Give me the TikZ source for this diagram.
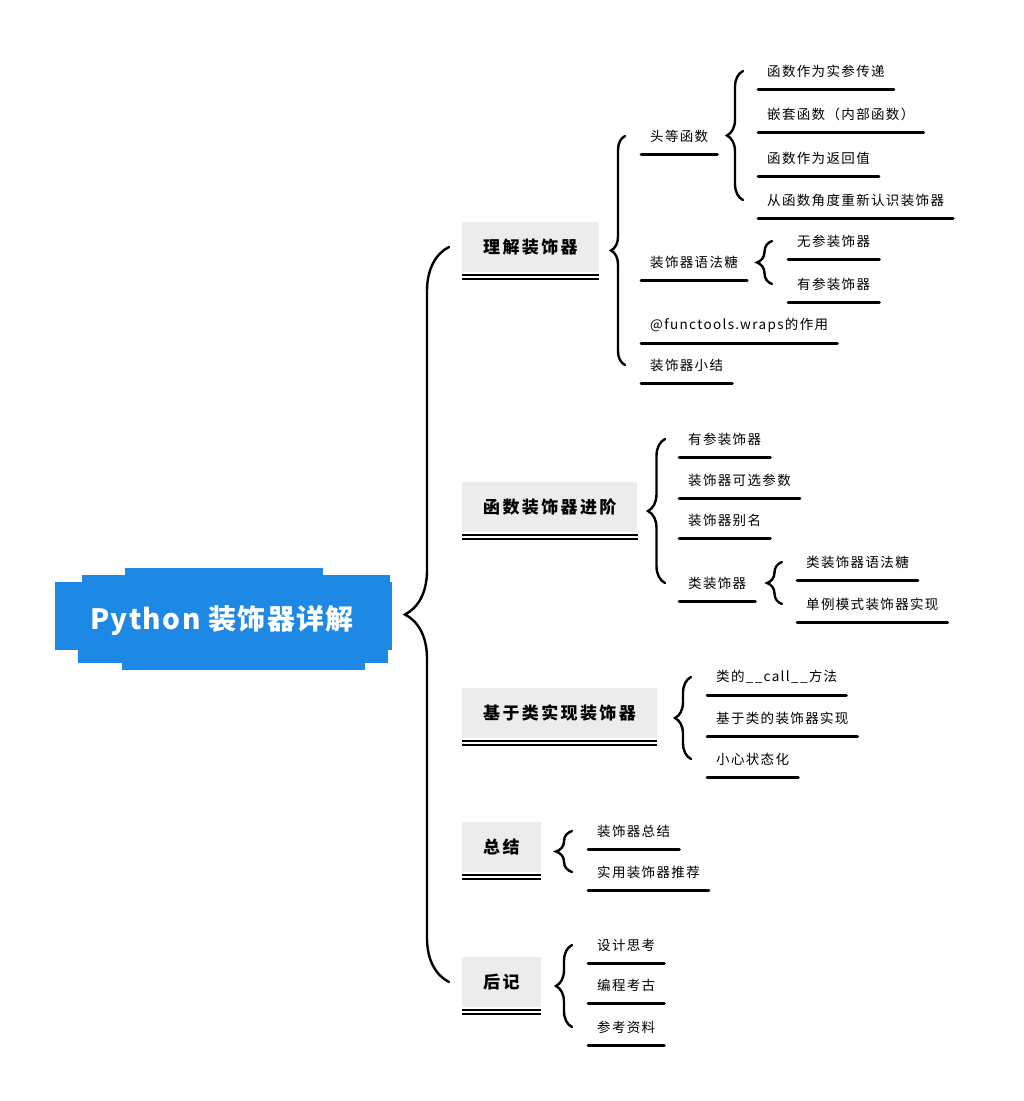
\documentclass[tikz,border=0pt]{standalone}
\usepackage{fontspec}
\setmainfont{Noto Sans CJK SC}[LetterSpace=10]
\usetikzlibrary{decorations.pathreplacing}
\definecolor{mapblue}{RGB}{30,136,229}

\begin{document}
\begin{tikzpicture}[x=1pt,y=-1pt]
   \tikzstyle{topic}=[anchor=west, fill=gray!15, minimum height=50pt, inner xsep=21pt, font=\fontsize{17}{20}\selectfont\bfseries\addfontfeatures{LetterSpace=14}]
   \tikzstyle{leaf}=[anchor=west, minimum height=36pt, inner xsep=9pt, font=\fontsize{13.5}{16}\selectfont]
   \tikzstyle{uline}=[line width=2.9pt, line cap=round]
   \tikzstyle{dline}=[draw=black, double=white, double distance=2pt, line width=2pt]
   \tikzstyle{brc}=[decorate, decoration={brace, amplitude=15pt}, line width=2.4pt, line cap=round]

\useasboundingbox[fill=white] (0,0) rectangle (1024,1101);

% root blob
\fill[mapblue] (55,582) rectangle (392,650);
\fill[mapblue] (82,575) rectangle (390,585);
\fill[mapblue] (125,568) rectangle (323,580);
\fill[mapblue] (78,648) rectangle (388,663);
\fill[mapblue] (122,660) rectangle (365,670);
\node[text=white, font=\fontsize{28}{32}\selectfont\bfseries\addfontfeatures{LetterSpace=5}] (root) at (222,621) {Python 装饰器详解};

% topics
\node[topic] (t1) at (462,247) {理解装饰器};
\node[topic] (t2) at (462,507) {函数装饰器进阶};
\node[topic] (t3) at (462,713) {基于类实现装饰器};
\node[topic] (t4) at (462,847) {总结};
\node[topic] (t5) at (462,982) {后记};

% leaves
\node[leaf] (a1) at (641,136) {头等函数};
\node[leaf] (a2) at (641,262) {装饰器语法糖};
\node[leaf] (a3) at (641,325) {@functools.wraps的作用};
\node[leaf] (a4) at (641,365) {装饰器小结};
\node[leaf] (b1) at (758,71) {函数作为实参传递};
\node[leaf] (b2) at (758,114) {嵌套函数（内部函数）};
\node[leaf] (b3) at (758,158) {函数作为返回值};
\node[leaf] (b4) at (758,200) {从函数角度重新认识装饰器};
\node[leaf] (c1) at (788,241) {无参装饰器};
\node[leaf] (c2) at (788,284) {有参装饰器};
\node[leaf] (d1) at (679,439) {有参装饰器};
\node[leaf] (d2) at (679,480) {装饰器可选参数};
\node[leaf] (d3) at (679,520) {装饰器别名};
\node[leaf] (d4) at (679,583) {类装饰器};
\node[leaf] (e1) at (797,562) {类装饰器语法糖};
\node[leaf] (e2) at (797,604) {单例模式装饰器实现};
\node[leaf] (f1) at (707,677) {类的\_\_call\_\_方法};
\node[leaf] (f2) at (707,718) {基于类的装饰器实现};
\node[leaf] (f3) at (707,759) {小心状态化};
\node[leaf] (g1) at (588,831) {装饰器总结};
\node[leaf] (g2) at (588,872) {实用装饰器推荐};
\node[leaf] (h1) at (588,945) {设计思考};
\node[leaf] (h2) at (588,985) {编程考古};
\node[leaf] (h3) at (588,1027) {参考资料};

% underlines
\foreach \n in {t1,t2,t3,t4,t5}
   \draw[dline] ([yshift=-5pt]\n.south west) -- ([yshift=-5pt]\n.south east);
\foreach \n in {a1,a2,a3,a4,b1,b2,b3,b4,c1,c2,d1,d2,d3,d4,e1,e2,f1,f2,f3,g1,g2,h1,h2,h3}
   \draw[uline] (\n.south west) -- (\n.south east);

% braces
\draw[brc, decoration={amplitude=44pt}] ([xshift=-13pt]t5.west) -- ([xshift=-13pt]t1.west);
\draw[brc, decoration={amplitude=14pt}] ([xshift=-16pt]a4.west) -- ([xshift=-16pt]a1.west);
\draw[brc, decoration={amplitude=16pt}] ([xshift=-15pt]b4.west) -- ([xshift=-15pt]b1.west);
\draw[brc] ([xshift=-16pt]c2.west) -- ([xshift=-16pt]c1.west);
\draw[brc, decoration={amplitude=17pt}] ([xshift=-14pt]d4.west) -- ([xshift=-14pt]d1.west);
\draw[brc] ([xshift=-15pt]e2.west) -- ([xshift=-15pt]e1.west);
\draw[brc, decoration={amplitude=16pt}] ([xshift=-16pt]f3.west) -- ([xshift=-16pt]f1.west);
\draw[brc, decoration={amplitude=16pt}] ([xshift=-16pt]g2.west) -- ([xshift=-16pt]g1.west);
\draw[brc, decoration={amplitude=16pt}] ([xshift=-16pt]h3.west) -- ([xshift=-16pt]h1.west);

\end{tikzpicture}
\end{document}
